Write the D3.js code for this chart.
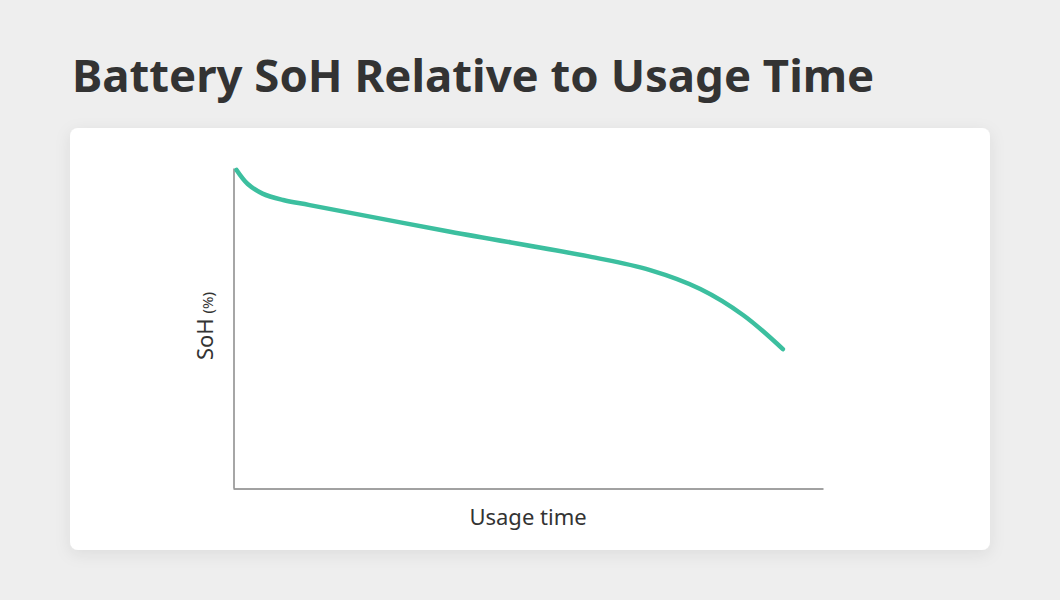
<!DOCTYPE html>
<html>
<head>
<meta charset="utf-8">
<script src="https://cdn.jsdelivr.net/npm/d3@7"></script>
<style>
  html, body { margin: 0; padding: 0; background: #eeeeee; }
  svg { display: block; }
</style>
</head>
<body>
<div id="chart"></div>
<script>
// data (usage time 0..100, SoH 0..100, both unitless)
var usageTime = [0.6, 2.5, 5.0, 8.5, 13.0, 36.8, 60.5, 70.7, 79.2, 86.5, 93.2];
var sohValues = [99.4, 95.0, 92.0, 90.0, 88.4, 80.1, 72.3, 68.1, 62.2, 54.0, 43.4];
var titleText = "Battery SoH Relative to Usage Time";
var xLabel = "Usage time";
var yLabel = "SoH";
var yUnit = "(%)";

var width = 1060, height = 600;
var card = {x: 70, y: 128, w: 920, h: 422, r: 8};
var plot = {left: 233, right: 823, top: 168, bottom: 488};
var font = "'Noto Sans', 'Open Sans', sans-serif";

var svg = d3.select("#chart").append("svg")
    .attr("width", width).attr("height", height);

// card shadow
var defs = svg.append("defs");
var f = defs.append("filter").attr("id", "shadow")
    .attr("x", "-10%").attr("y", "-10%").attr("width", "120%").attr("height", "130%");
f.append("feDropShadow").attr("dx", 0).attr("dy", 4).attr("stdDeviation", 8)
    .attr("flood-color", "#000").attr("flood-opacity", 0.08);

svg.append("rect")
    .attr("x", card.x).attr("y", card.y)
    .attr("width", card.w).attr("height", card.h)
    .attr("rx", card.r).attr("fill", "#fff")
    .attr("filter", "url(#shadow)");

// title
svg.append("text")
    .attr("x", 72).attr("y", 92)
    .attr("font-family", font).attr("font-weight", 700)
    .attr("font-size", 45.5).attr("fill", "#333")
    .text(titleText);

// scales
var x = d3.scaleLinear().domain([0, 100]).range([plot.left, plot.right]);
var y = d3.scaleLinear().domain([0, 100]).range([plot.bottom, plot.top]);

// axes (no ticks)
var xAxis = d3.axisBottom(x).tickValues([]).tickSizeOuter(0);
var yAxis = d3.axisLeft(y).tickValues([]).tickSizeOuter(0);
svg.append("g").attr("transform", "translate(0," + (plot.bottom + 0.5) + ")").call(xAxis)
    .select(".domain").attr("stroke", "#444");
svg.append("g").attr("transform", "translate(" + (plot.left + 0.5) + ",0)").call(yAxis)
    .select(".domain").attr("stroke", "#888").attr("stroke-width", 1.5);

// line
var pts = usageTime.map(function(d, i) { return [d, sohValues[i]]; });
var line = d3.line()
    .x(function(d) { return x(d[0]); })
    .y(function(d) { return y(d[1]); })
    .curve(d3.curveCatmullRom.alpha(0.5));
svg.append("path")
    .datum(pts)
    .attr("d", line)
    .attr("fill", "none")
    .attr("stroke", "#3cbf9f")
    .attr("stroke-width", 4.5)
    .attr("stroke-linecap", "round");

// axis labels
svg.append("text")
    .attr("x", 528)
    .attr("y", 525)
    .attr("text-anchor", "middle")
    .attr("font-family", font).attr("font-size", 22).attr("fill", "#333")
    .text(xLabel);

var yl = svg.append("text")
    .attr("transform", "translate(213,326) rotate(-90)")
    .attr("text-anchor", "middle")
    .attr("font-family", font).attr("fill", "#333");
yl.append("tspan").attr("font-size", 22).text(yLabel);
yl.append("tspan").attr("font-size", 15).attr("dx", 5).text(yUnit);
</script>
</body>
</html>
